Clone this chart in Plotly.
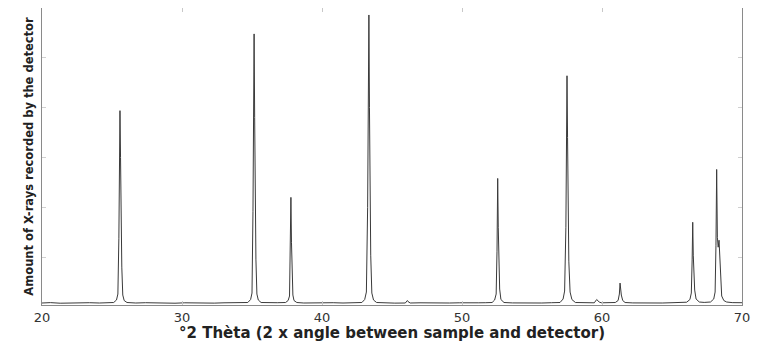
import plotly.graph_objects as go

# Digitized XRD pattern (°2θ, intensity in arbitrary counts)
base_a_x = [20.0, 20.6, 21.3, 22.0, 22.7, 23.4, 24.1, 24.7]
base_a_y = [40, 44, 38, 42, 39, 43, 40, 42]
peak1_x = [25.12, 25.32, 25.42, 25.49, 25.54, 25.57, 25.61, 25.65, 25.70, 25.77, 25.87, 26.07]
peak1_y = [45, 70, 130, 690, 1580, 1970, 1500, 880, 400, 120, 65, 45]
base_b_x = [26.7, 27.4, 28.1, 28.8, 29.5, 30.2, 30.9, 31.6, 32.3, 33.0, 33.7, 34.3]
base_b_y = [40, 43, 39, 41, 38, 42, 40, 43, 39, 42, 41, 44]
peak2_x = [34.70, 34.90, 35.00, 35.07, 35.12, 35.15, 35.19, 35.23, 35.28, 35.35, 35.45, 35.65]
peak2_y = [45, 75, 140, 960, 2190, 2740, 1900, 1100, 480, 130, 70, 45]
base_c_x = [36.2, 36.8]
base_c_y = [41, 43]
peak3_x = [37.40, 37.58, 37.68, 37.74, 37.78, 37.82, 37.86, 37.92, 38.00, 38.20]
peak3_y = [45, 65, 110, 500, 1100, 650, 340, 120, 65, 45]
base_d_x = [38.7, 39.4, 40.1, 40.8, 41.5, 42.2]
base_d_y = [40, 42, 39, 43, 40, 44]
peak4_x = [42.85, 43.05, 43.17, 43.26, 43.31, 43.35, 43.39, 43.43, 43.48, 43.56, 43.68, 43.90]
peak4_y = [45, 75, 150, 1000, 2350, 2930, 2000, 1200, 520, 140, 70, 45]
base_e_x = [44.5, 45.2, 45.95, 46.10, 46.14, 46.30, 47.0, 47.7, 48.4, 49.1, 49.8, 50.5, 51.2, 51.7]
base_e_y = [41, 39, 40, 65, 55, 40, 42, 39, 43, 40, 42, 39, 42, 43]
peak5_x = [52.15, 52.33, 52.44, 52.50, 52.55, 52.59, 52.63, 52.69, 52.78, 53.00]
peak5_y = [45, 70, 130, 560, 1290, 800, 500, 180, 75, 45]
base_f_x = [53.6, 54.3, 55.0, 55.7, 56.4]
base_f_y = [41, 39, 42, 40, 43]
peak6_x = [57.00, 57.22, 57.33, 57.42, 57.47, 57.50, 57.54, 57.58, 57.63, 57.72, 57.85, 58.10]
peak6_y = [45, 80, 160, 800, 1850, 2320, 1700, 1000, 460, 150, 75, 45]
base_g_x = [58.6, 59.1, 59.45, 59.62, 59.68, 59.80, 59.95, 60.4]
base_g_y = [42, 40, 42, 75, 65, 50, 42, 43]
peak7_x = [60.95, 61.15, 61.24, 61.29, 61.33, 61.38, 61.48, 61.65]
peak7_y = [45, 65, 130, 240, 140, 120, 65, 45]
base_h_x = [62.2, 62.9, 63.6, 64.3, 65.0, 65.6]
base_h_y = [41, 39, 42, 40, 43, 45]
peak8_x = [66.05, 66.28, 66.38, 66.44, 66.48, 66.52, 66.56, 66.62, 66.72, 66.95]
peak8_y = [48, 75, 140, 480, 850, 520, 380, 170, 80, 50]
base_i_x = [67.3]
base_i_y = [46]
peak9_x = [67.75, 67.98, 68.08, 68.14, 68.19, 68.24, 68.30, 68.36, 68.40, 68.46, 68.55, 68.70, 68.90]
peak9_y = [50, 80, 150, 620, 1380, 700, 600, 670, 550, 250, 110, 65, 50]
base_j_x = [69.3, 69.7, 70.0]
base_j_y = [44, 42, 43]

x_ticks = [20, 30, 40, 50, 60, 70]
y_ticks = [500, 1000, 1500, 2000, 2500]

segments_x = [base_a_x, peak1_x, base_b_x, peak2_x, base_c_x, peak3_x, base_d_x, peak4_x,
              base_e_x, peak5_x, base_f_x, peak6_x, base_g_x, peak7_x, base_h_x, peak8_x,
              base_i_x, peak9_x, base_j_x]
segments_y = [base_a_y, peak1_y, base_b_y, peak2_y, base_c_y, peak3_y, base_d_y, peak4_y,
              base_e_y, peak5_y, base_f_y, peak6_y, base_g_y, peak7_y, base_h_y, peak8_y,
              base_i_y, peak9_y, base_j_y]
two_theta = [v for s in segments_x for v in s]
intensity = [v for s in segments_y for v in s]

fig = go.Figure(go.Scatter(x=two_theta, y=intensity, mode="lines",
                           line=dict(color="#3a3a3a", width=1), hoverinfo="skip"))

font_family = "DejaVu Sans"
# the page body adds an 8px offset, so the figure is sized to fit the 762x342 window
fig.update_layout(
    width=754, height=334,
    margin=dict(l=34, r=20, t=0, b=37),
    paper_bgcolor="white", plot_bgcolor="white",
    showlegend=False,
    font=dict(family=font_family, color="#333333"),
)
fig.update_xaxes(
    range=[20, 70], tickvals=x_ticks, ticktext=[str(t) for t in x_ticks],
    showgrid=False, zeroline=False,
    showline=True, linecolor="#8a8a8a", linewidth=1, mirror="all",
    ticks="inside", ticklen=4, tickcolor="#c8c8c8",
    tickfont=dict(size=13, family=font_family, color="#333333"),
    title=dict(text="<b>°2 Thèta (2 x angle between sample and detector)</b>",
               font=dict(size=15, family=font_family, color="#222222"), standoff=0),
)
fig.update_yaxes(
    range=[20, 3000], tickvals=y_ticks, showticklabels=False,
    showgrid=False, zeroline=False,
    showline=True, linecolor="#8a8a8a", linewidth=1, mirror="all",
    ticks="inside", ticklen=4, tickcolor="#d0d0d0",
    title=dict(text="<b>Amount of X-rays recorded by the detector</b>",
               font=dict(size=11.5, family=font_family, color="#222222"), standoff=4),
)

fig.write_html("out.html")
